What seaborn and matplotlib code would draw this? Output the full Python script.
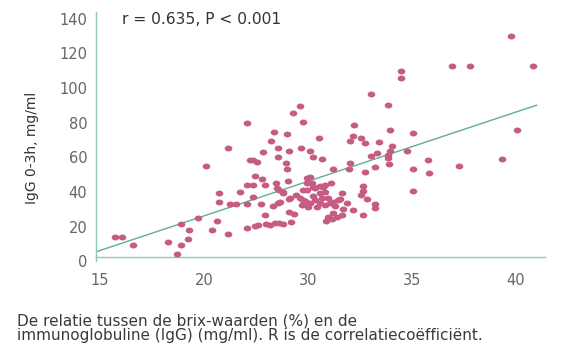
import numpy as np
import pandas as pd
import matplotlib
matplotlib.use("Agg")
import matplotlib.pyplot as plt
from matplotlib.path import Path
import seaborn as sns

# ---- data ----
brix = [15.72, 16.04, 16.57, 18.27, 18.69, 18.90, 19.23, 19.30, 18.90, 19.70,
        20.09, 20.40, 20.62, 20.73, 20.73, 21.16, 21.16, 21.26, 21.53, 21.74,
        22.05, 22.05, 22.07, 22.05, 22.22, 22.38, 22.54, 22.36, 22.35, 22.46,
        22.62, 22.47, 22.80, 22.83, 22.73, 22.94, 22.95, 22.99, 23.18, 23.42,
        23.63, 23.79, 23.25, 23.37, 23.57, 23.58, 23.47, 23.53, 23.63, 23.31,
        23.58, 23.79, 23.98, 23.94, 23.98, 24.07, 24.11, 24.11, 24.11, 24.35,
        24.18, 24.30, 24.43, 24.62, 24.77, 24.67, 24.78, 25.02, 24.98, 25.11,
        25.26, 25.67, 25.54, 26.23, 27.03, 26.98, 27.23, 27.19, 27.56, 27.05,
        27.75, 28.45, 28.04, 28.86, 28.96, 29.04, 28.96, 28.87, 28.87, 28.92,
        28.32, 28.03, 28.26, 27.75, 29.49, 29.49, 29.79, 30.08, 30.05, 30.08,
        30.80, 30.82, 32.29, 31.93, 32.81, 34.76, 35.85, 35.05, 34.33,
        25.11, 24.95, 25.19, 24.78, 25.35, 25.59, 25.83, 26.10, 25.59, 25.83,
        26.63, 27.64, 27.67, 27.55, 27.83, 26.23, 26.47, 26.87, 28.23, 28.23,
        26.71, 27.19, 27.64, 26.23, 25.99, 25.88, 26.15, 26.39, 26.63, 23.82,
        23.66, 24.14, 25.26, 25.75, 24.95,
        24.62, 24.87, 25.11, 25.35, 25.59, 25.83, 26.07, 25.44, 25.01, 25.68,
        25.97, 26.31, 24.72, 25.25, 26.55]
igg = [14.0, 14.0, 9.2, 11.1, 4.0, 9.2, 12.9, 18.1, 21.5, 25.2,
       55.2, 18.1, 23.5, 39.2, 34.5, 65.2, 16.0, 33.1, 33.1, 39.9,
       19.0, 33.1, 44.2, 79.6, 58.5, 58.7, 57.3, 44.3, 37.3, 20.5,
       20.9, 49.2, 47.7, 62.9, 32.9, 44.0, 26.9, 21.5, 20.9, 21.9,
       22.3, 21.5, 69.7, 74.8, 65.2, 60.4, 45.2, 42.3, 41.1, 31.9,
       33.8, 39.2, 73.2, 56.5, 53.0, 46.3, 63.6, 35.9, 28.4, 27.1,
       22.9, 85.7, 38.3, 89.6, 80.6, 65.2, 35.4, 32.5, 48.2, 63.9,
       60.2, 59.0, 71.0, 53.4, 56.5, 53.0, 78.6, 72.6, 71.3, 69.7,
       68.4, 69.1, 96.4, 90.2, 75.8, 66.8, 63.9, 61.6, 59.9, 56.4,
       62.7, 60.9, 54.7, 51.7, 109.8, 105.6, 63.8, 73.9, 53.3, 40.7,
       58.2, 51.1, 55.2, 112.9, 112.9, 130.0, 112.9, 75.8, 59.2,
       48.8, 45.0, 45.0, 41.1, 42.1, 43.5, 44.0, 45.4, 39.2, 40.2,
       39.2, 43.7, 40.7, 38.3, 35.9, 34.4, 35.4, 33.8, 33.2, 30.6,
       29.9, 29.6, 26.9, 27.7, 25.7, 23.4, 24.2, 25.7, 26.7, 40.2,
       34.4, 36.4, 43.0, 43.0, 41.1,
       36.5, 34.8, 33.6, 35.4, 33.6, 32.5, 33.6, 31.3, 31.3, 36.5,
       36.5, 31.9, 32.5, 37.7, 36.2]

fit_x = [14.81, 36.03]
fit_slope = 3.99
fit_intercept = -53.6

xtick_pos = [15, 20, 25, 30, 35]
xtick_labels = ["15", "20", "30", "35", "40"]
ytick_vals = [0, 20, 40, 60, 80, 100, 120, 140]

stat_text = "r = 0.635, P < 0.001"
ylabel = "IgG 0-3h, mg/ml"
caption1 = "De relatie tussen de brix-waarden (%) en de"
caption2 = "immunoglobuline (IgG) (mg/ml). R is de correlatiecoëfficiënt."

# ---- style ----
sns.set_theme(style="white")
plt.rcParams["font.family"] = ["DejaVu Sans"]

PINK = "#C65C84"
LINE = "#62AE8E"
SPINE = "#93C9B2"

W, H = 573, 348
fig = plt.figure(figsize=(W / 100, H / 100), dpi=100)
ax_l, ax_r, ax_t, ax_b = 95.7, 545, 12, 261.3
ax = fig.add_axes([ax_l / W, 1 - ax_b / H, (ax_r - ax_l) / W, (ax_b - ax_t) / H])

df = pd.DataFrame({"brix": brix, "igg": igg})
fit_df = pd.DataFrame({"x": fit_x, "y": [fit_intercept + fit_slope * v for v in fit_x]})

sns.lineplot(data=fit_df, x="x", y="y", ax=ax, color=LINE, linewidth=1.0, zorder=1)

t = np.linspace(0, 2 * np.pi, 60)
ellipse = Path(np.c_[np.cos(t), 0.78 * np.sin(t)], closed=True)
sns.scatterplot(data=df, x="brix", y="igg", ax=ax, color=PINK, marker=ellipse,
                s=30, linewidth=0, alpha=1.0, zorder=3)

ax.set_xlim(14.79, 36.42)
ax.set_ylim(0, 143.9)
ax.set_xticks(xtick_pos)
ax.set_xticklabels(xtick_labels)
ax.set_yticks(ytick_vals)
ax.set_xlabel("")
ax.set_ylabel(ylabel, fontsize=10, color="#333333")
ax.yaxis.set_label_coords(-0.127, 0.456)

for s in ["top", "right"]:
    ax.spines[s].set_visible(False)
for s in ["left", "bottom"]:
    ax.spines[s].set_color(SPINE)
    ax.spines[s].set_linewidth(1.0)
ax.spines["bottom"].set_position(("data", 2.2))

ax.tick_params(axis="both", length=0, labelsize=10.5, labelcolor="#666666")
ax.tick_params(axis="y", pad=6)
ax.tick_params(axis="x", pad=11)

fig.text(121.7 / W, 1 - 24 / H, stat_text, fontsize=11.2, color="#333333",
         ha="left", va="baseline")
fig.text(17 / W, 1 - 325 / H, caption1, fontsize=11, color="#3a3a3a",
         ha="left", va="baseline")
fig.text(17 / W, 1 - 340 / H, caption2, fontsize=11, color="#3a3a3a",
         ha="left", va="baseline")

fig.savefig("out.png", dpi=100)
